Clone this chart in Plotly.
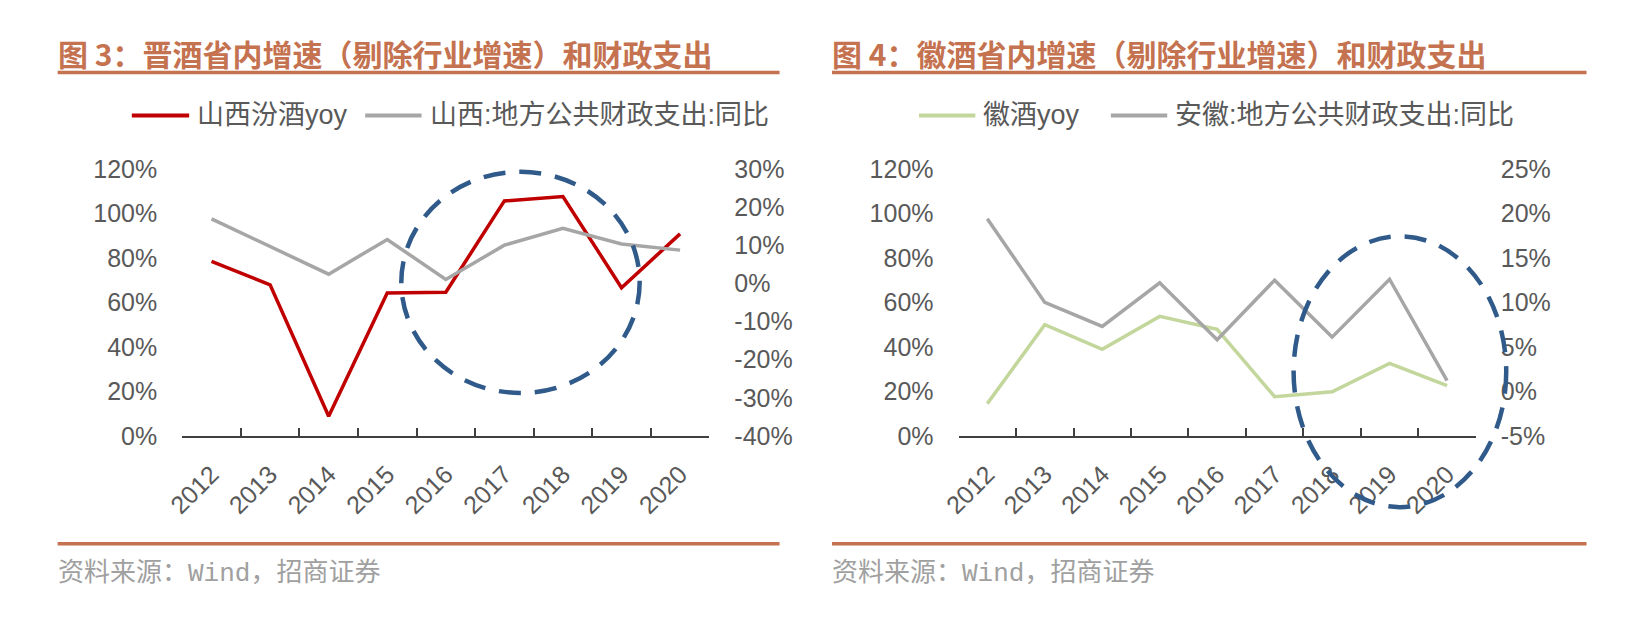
import plotly.graph_objects as go

# page body keeps the browser's default 8px margin, so the figure is sized to fit inside it
OFF = 8
W, H = 1642 - 2 * OFF, 621 - 2 * OFF

# ---------------- data ----------------
years = ["2012", "2013", "2014", "2015", "2016", "2017", "2018", "2019", "2020"]
fenjiu_yoy = [78.4, 67.9, 8.8, 64.2, 64.6, 105.6, 107.6, 66.6, 90.8]       # left axis, %
shanxi_exp = [16.9, 9.6, 2.4, 11.5, 1.0, 10.0, 14.4, 10.3, 8.7]            # right axis, %
huijiu_yoy = [14.5, 50.0, 38.9, 53.7, 47.9, 17.6, 19.8, 32.6, 22.6]        # left axis, %
anhui_exp = [19.4, 10.0, 7.3, 12.2, 5.8, 12.5, 6.1, 12.6, 1.2]             # right axis, %

names_left = ["山西汾酒yoy", "山西:地方公共财政支出:同比"]
names_right = ["徽酒yoy", "安徽:地方公共财政支出:同比"]
title_left = "图 3：晋酒省内增速（剔除行业增速）和财政支出"
title_right = "图 4：徽酒省内增速（剔除行业增速）和财政支出"
source_text = "资料来源：Wind，招商证券"

left_y_ticks = [0, 20, 40, 60, 80, 100, 120]
left_y2_ticks = [-40, -30, -20, -10, 0, 10, 20, 30]
right_y_ticks = [0, 20, 40, 60, 80, 100, 120]
right_y2_ticks = [-5, 0, 5, 10, 15, 20, 25]

# highlight ellipses (category index, left-axis %)
ell_left = dict(x=[3.24, 7.31], y=[19.3, 118.7])
ell_right = dict(x=[5.33, 9.03], y=[-32.0, 89.7])

# ---------------- styling ----------------
RED = "#C00000"
GREY = "#A6A6A6"
GREEN = "#C3D69B"
BLUE = "#2F5A8A"
ORANGE = "#C4724F"
TICK = "#595959"
LAT = "Liberation Sans, Arial, Noto Sans CJK SC, sans-serif"
CJK = "Noto Sans CJK SC, sans-serif"


def px(x):
    return (x - OFF) / W


def py(y):
    return 1 - (y - OFF) / H


def pct_labels(vals):
    return ["%d%%" % v for v in vals]


fig = go.Figure()
fig.add_trace(go.Scatter(x=years, y=fenjiu_yoy, mode="lines", name=names_left[0],
                         line=dict(color=RED, width=3.5), xaxis="x", yaxis="y", showlegend=False))
fig.add_trace(go.Scatter(x=years, y=shanxi_exp, mode="lines", name=names_left[1],
                         line=dict(color=GREY, width=3.5), xaxis="x", yaxis="y2", showlegend=False))
fig.add_trace(go.Scatter(x=years, y=huijiu_yoy, mode="lines", name=names_right[0],
                         line=dict(color=GREEN, width=3.5), xaxis="x2", yaxis="y3", showlegend=False))
fig.add_trace(go.Scatter(x=years, y=anhui_exp, mode="lines", name=names_right[1],
                         line=dict(color=GREY, width=3.5), xaxis="x2", yaxis="y4", showlegend=False))

plot_top, plot_bot = 162, 442
ydom = [py(plot_bot), py(plot_top)]
xdom1 = [px(166), px(699)]
xdom2 = [px(951), px(1474)]

xcommon = dict(type="category", range=[-0.5, len(years) - 0.5], showline=True, linecolor="#404040",
               linewidth=2, ticks="inside", tickson="boundaries", ticklen=8, tickcolor="#404040",
               tickwidth=1.5, tickangle=-45, tickfont=dict(family=LAT, size=25, color=TICK),
               showgrid=False, zeroline=False, ticklabelstandoff=12, fixedrange=True)
ycommon = dict(showgrid=False, zeroline=False, showline=False, ticks="outside", ticklen=19,
               tickcolor="rgba(0,0,0,0)", tickfont=dict(family=LAT, size=25, color=TICK),
               fixedrange=True, tickmode="array")


def yax(ticks, **kw):
    return dict(range=[ticks[0], ticks[-1]], tickvals=ticks, ticktext=pct_labels(ticks), **ycommon, **kw)


fig.update_layout(
    width=W, height=H,
    margin=dict(l=0, r=0, t=0, b=0),
    paper_bgcolor="white", plot_bgcolor="white",
    showlegend=False,
    xaxis=dict(domain=xdom1, anchor="y", **xcommon),
    yaxis=yax(left_y_ticks, domain=ydom, anchor="x"),
    yaxis2=yax(left_y2_ticks, overlaying="y", side="right", anchor="x"),
    xaxis2=dict(domain=xdom2, anchor="y3", **xcommon),
    yaxis3=yax(right_y_ticks, domain=ydom, anchor="x2"),
    yaxis4=yax(right_y2_ticks, overlaying="y3", side="right", anchor="x2"),
)

shapes = []
annotations = []

# titles, rules, sources
for x0, x1, title in [(40, 770, title_left), (823, 1586, title_right)]:
    annotations.append(dict(text="<b>" + title + "</b>", x=px(x0 - 2), y=py(41), xref="paper", yref="paper",
                            xanchor="left", yanchor="middle", showarrow=False,
                            font=dict(family=CJK, size=30, color=ORANGE)))
    shapes.append(dict(type="line", xref="paper", yref="paper", x0=px(x0), x1=px(x1), y0=py(61), y1=py(61),
                       line=dict(color=ORANGE, width=3.5)))
    shapes.append(dict(type="line", xref="paper", yref="paper", x0=px(x0), x1=px(x1), y0=py(555), y1=py(555),
                       line=dict(color=ORANGE, width=3.5)))
    annotations.append(dict(text=source_text, x=px(x0 - 2), y=py(586), xref="paper", yref="paper",
                            xanchor="left", yanchor="middle", showarrow=False,
                            font=dict(family="Liberation Mono, Noto Sans CJK SC, monospace", size=26,
                                      color="#A0A0A0")))

# legends (manual, to match the long line swatches)
legend_items = [
    (115, 173, 179, RED, names_left[0]),
    (351, 408, 415, GREY, names_left[1]),
    (911, 968, 974, GREEN, names_right[0]),
    (1105, 1162, 1168, GREY, names_right[1]),
]
for lx0, lx1, tx, col, name in legend_items:
    shapes.append(dict(type="line", xref="paper", yref="paper", x0=px(lx0), x1=px(lx1), y0=py(106), y1=py(106),
                       line=dict(color=col, width=4)))
    annotations.append(dict(text=name, x=px(tx), y=py(105), xref="paper", yref="paper",
                            xanchor="left", yanchor="middle", showarrow=False,
                            font=dict(family=LAT, size=27, color=TICK)))

# dashed highlight ellipses, positioned through the axis scales
n = len(years)
for ell, xr, yr, ticks in [(ell_left, "x domain", "y domain", left_y_ticks),
                           (ell_right, "x2 domain", "y3 domain", right_y_ticks)]:
    fx = [(v + 0.5) / n for v in ell["x"]]
    fy = [(v - ticks[0]) / (ticks[-1] - ticks[0]) for v in ell["y"]]
    shapes.append(dict(type="circle", xref=xr, yref=yr, x0=fx[0], x1=fx[1], y0=fy[0], y1=fy[1],
                       line=dict(color=BLUE, width=4.5, dash="22px,14px"), layer="above"))

fig.update_layout(shapes=shapes, annotations=annotations)
fig.write_html("out.html")
